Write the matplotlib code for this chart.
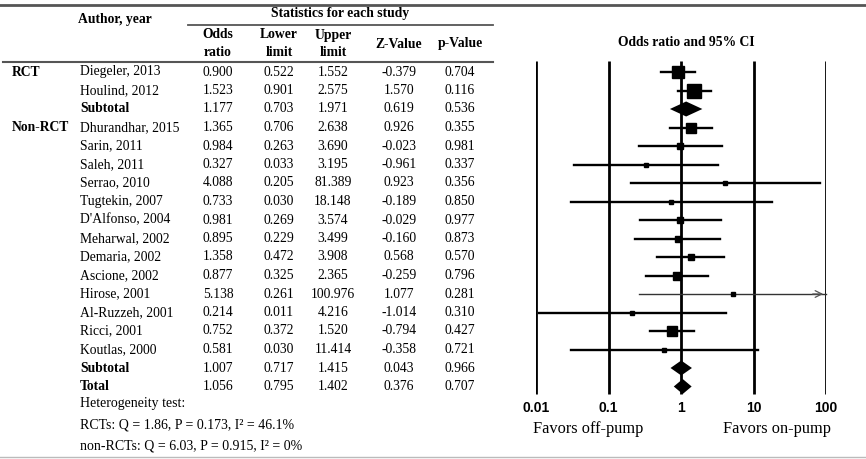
import numpy as np
import matplotlib
matplotlib.use("Agg")
import matplotlib.pyplot as plt

# study table
groups = ["RCT", "", "", "Non-RCT", "", "", "", "", "", "", "", "", "", "", "", "", "", ""]
authors = ["Diegeler, 2013", "Houlind, 2012", "Subtotal",
           "Dhurandhar, 2015", "Sarin, 2011", "Saleh, 2011", "Serrao, 2010",
           "Tugtekin, 2007", "D'Alfonso, 2004", "Meharwal, 2002", "Demaria, 2002",
           "Ascione, 2002", "Hirose, 2001", "Al-Ruzzeh, 2001", "Ricci, 2001",
           "Koutlas, 2000", "Subtotal", "Total"]
kind = ["study", "study", "pooled",
        "study", "study", "study", "study", "study", "study", "study", "study",
        "study", "study", "study", "study", "study", "pooled", "pooled"]
odds = [0.900, 1.523, 1.177, 1.365, 0.984, 0.327, 4.088, 0.733, 0.981, 0.895,
        1.358, 0.877, 5.138, 0.214, 0.752, 0.581, 1.007, 1.056]
lower = [0.522, 0.901, 0.703, 0.706, 0.263, 0.033, 0.205, 0.030, 0.269, 0.229,
         0.472, 0.325, 0.261, 0.011, 0.372, 0.030, 0.717, 0.795]
upper = [1.552, 2.575, 1.971, 2.638, 3.690, 3.195, 81.389, 18.148, 3.574, 3.499,
         3.908, 2.365, 100.976, 4.216, 1.520, 11.414, 1.415, 1.402]
zval = [-0.379, 1.570, 0.619, 0.926, -0.023, -0.961, 0.923, -0.189, -0.029, -0.160,
        0.568, -0.259, 1.077, -1.014, -0.794, -0.358, 0.043, 0.376]
pval = [0.704, 0.116, 0.536, 0.355, 0.981, 0.337, 0.356, 0.850, 0.977, 0.873,
        0.570, 0.796, 0.281, 0.310, 0.427, 0.721, 0.966, 0.707]
heterogeneity = ["Heterogeneity test:",
                 "RCTs: Q = 1.86, P = 0.173, I\u00b2 = 46.1%",
                 "non-RCTs: Q = 6.03, P = 0.915, I\u00b2 = 0%"]
ticks = [0.01, 0.1, 1, 10, 100]

serif = "Liberation Serif"
fs = 9.8
W, H = 866, 459

fig = plt.figure(figsize=(W / 100, H / 100), dpi=100)
tab = fig.add_axes([0, 0, 1, 1])
tab.set_xlim(0, W)
tab.set_ylim(H, 0)
tab.axis("off")

line_col = "#555555"
tab.plot([0, W], [5, 5], color=line_col, lw=2)
tab.plot([188, 493], [25, 25], color=line_col, lw=1.3)
tab.plot([3, 493], [62, 62], color=line_col, lw=1.5)
tab.plot([0, W], [457, 457], color="#bbbbbb", lw=1)

tab.text(78, 20, "Author, year", family=serif, fontsize=fs, weight="bold", va="center")
tab.text(340, 14, "Statistics for each study", family=serif, fontsize=fs,
         weight="bold", ha="center", va="center")

col_x = [218, 279, 333, 399, 460]
heads = [("Odds", "ratio"), ("Lower", "limit"), ("Upper", "limit"), ("Z-Value",), ("p-Value",)]
for cx, h in zip(col_x, heads):
    if len(h) == 2:
        tab.text(cx, 35, h[0], family=serif, fontsize=fs, weight="bold", ha="center", va="center")
        tab.text(cx, 53, h[1], family=serif, fontsize=fs, weight="bold", ha="center", va="center")
    else:
        tab.text(cx, 44, h[0], family=serif, fontsize=fs, weight="bold", ha="center", va="center")

y0, dy = 72, 18.5
rows_y = y0 + dy * np.arange(len(authors))
for i, y in enumerate(rows_y):
    if groups[i]:
        tab.text(12, y, groups[i], family=serif, fontsize=fs, weight="bold", va="center")
    bold = "bold" if kind[i] == "pooled" else "normal"
    tab.text(80, y, authors[i], family=serif, fontsize=fs, weight=bold, va="center")
    vals = [odds[i], lower[i], upper[i], zval[i], pval[i]]
    for cx, v in zip(col_x, vals):
        tab.text(cx, y, f"{v:.3f}", family=serif, fontsize=fs, ha="center", va="center")

for txt, y in zip(heterogeneity, [404, 425, 446]):
    tab.text(80, y, txt, family=serif, fontsize=10.0, va="center")

# forest plot on a log scale, rows share the pixel rows of the table
fp = fig.add_axes([536 / W, 0, 290 / W, 1])
fp.set_xscale("log")
fp.set_xlim(0.01, 100)
fp.set_ylim(H, 0)
fp.axis("off")
fp.patch.set_alpha(0)

fp.vlines(ticks, 61, 394, color="black", lw=2)
for t in ticks:
    fp.text(t, 408, f"{t:g}", family="Liberation Sans", weight="bold", fontsize=10,
            ha="center", va="center")
fp.text(0.052, 429, "Favors off-pump", family=serif, fontsize=11.8, ha="center", va="center")
fp.text(21, 429, "Favors on-pump", family=serif, fontsize=11.8, ha="center", va="center")
fp.text(1.2, 43, "Odds ratio and 95% CI", family=serif, fontsize=fs, weight="bold",
        ha="center", va="center")

# square size from inverse-variance weight
se = (np.log(upper) - np.log(lower)) / 3.92
weight = 1 / se ** 2
for i, y in enumerate(rows_y):
    if kind[i] == "pooled":
        h = 7.5
        fp.fill([lower[i], odds[i], upper[i], odds[i]], [y, y - h, y, y + h],
                color="black", lw=0, clip_on=False)
        continue
    if upper[i] > 100:
        fp.plot([lower[i], 100], [y, y], color="#333333", lw=1, clip_on=False)
        fp.annotate("", xy=(100, y), xytext=(60, y),
                    arrowprops=dict(arrowstyle="->", color="#555555", lw=0.9,
                                    mutation_scale=12), annotation_clip=False)
    else:
        fp.plot([lower[i], upper[i]], [y, y], color="black", lw=1.7, clip_on=False)
    side = max(3.6 * np.sqrt(weight[i]), 3.5)
    fp.plot(odds[i], y, marker="s", color="black", markersize=side * 0.72,
            lw=0, clip_on=False)

fig.savefig("out.png", dpi=100)
